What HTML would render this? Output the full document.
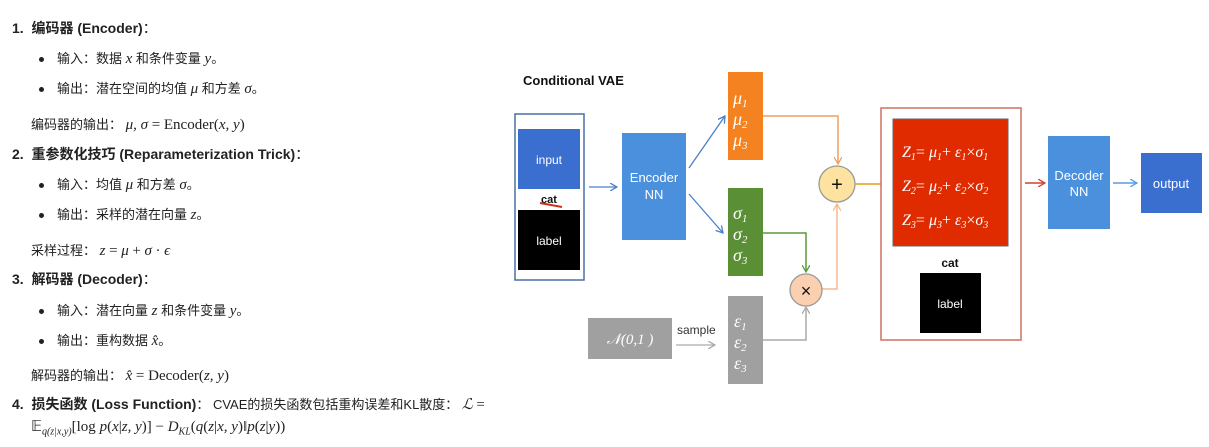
<!DOCTYPE html>
<html><head><meta charset="utf-8"><style>
body{margin:0;width:1209px;height:447px;background:#fff;position:relative;overflow:hidden;font-family:"Liberation Sans","Noto Sans CJK SC",sans-serif;color:#222}
.t{position:absolute;white-space:nowrap;font-size:13px;line-height:16px}
.h{font-weight:bold;font-size:14px}
.m{font-family:"Liberation Serif","Noto Serif CJK SC",serif;font-style:italic;font-size:15px}
.r{font-family:"Liberation Serif",serif;font-size:15px}
.dot{position:absolute;width:5px;height:5px;border-radius:50%;background:#222}
</style></head><body>
<div class="t h" style="left:12px;top:20px">1.&nbsp; 编码器 (Encoder)<span style="font-weight:normal">：</span></div>
<div class="dot" style="left:39px;top:57px"></div><div class="t" style="left:57px;top:51px">输入：数据 <span class="m">x</span> 和条件变量 <span class="m">y</span>。</div>
<div class="dot" style="left:39px;top:87px"></div><div class="t" style="left:57px;top:81px">输出：潜在空间的均值 <span class="m">μ</span> 和方差 <span class="m">σ</span>。</div>
<div class="t" style="left:31px;top:117px">编码器的输出： <span class="m">μ, σ</span> <span class="r">= Encoder(</span><span class="m">x, y</span><span class="r">)</span></div>
<div class="t h" style="left:12px;top:146px">2.&nbsp; 重参数化技巧 (Reparameterization Trick)<span style="font-weight:normal">：</span></div>
<div class="dot" style="left:39px;top:183px"></div><div class="t" style="left:57px;top:177px">输入：均值 <span class="m">μ</span> 和方差 <span class="m">σ</span>。</div>
<div class="dot" style="left:39px;top:213px"></div><div class="t" style="left:57px;top:207px">输出：采样的潜在向量 <span class="m">z</span>。</div>
<div class="t" style="left:31px;top:243px">采样过程： <span class="m">z</span> <span class="r">=</span> <span class="m">μ</span> <span class="r">+</span> <span class="m">σ</span> <span class="r">·</span> <span class="m">ϵ</span></div>
<div class="t h" style="left:12px;top:271px">3.&nbsp; 解码器 (Decoder)<span style="font-weight:normal">：</span></div>
<div class="dot" style="left:39px;top:309px"></div><div class="t" style="left:57px;top:303px">输入：潜在向量 <span class="m">z</span> 和条件变量 <span class="m">y</span>。</div>
<div class="dot" style="left:39px;top:339px"></div><div class="t" style="left:57px;top:333px">输出：重构数据 <span class="m">x̂</span>。</div>
<div class="t" style="left:31px;top:368px">解码器的输出： <span class="m">x̂</span> <span class="r">= Decoder(</span><span class="m">z, y</span><span class="r">)</span></div>
<div class="t" style="left:12px;top:396px"><b style="font-size:14px">4.&nbsp; 损失函数 (Loss Function)</b>： CVAE的损失函数包括重构误差和KL散度： <span class="m">ℒ</span> <span class="r">=</span></div>
<div class="t" style="left:31px;top:419px"><span class="r">𝔼</span><sub class="m" style="font-size:10px">q(z|x,y)</sub><span class="r">[log </span><span class="m">p</span><span class="r">(</span><span class="m">x</span><span class="r">|</span><span class="m">z, y</span><span class="r">)] − </span><span class="m">D</span><sub class="m" style="font-size:10px">KL</sub><span class="r">(</span><span class="m">q</span><span class="r">(</span><span class="m">z</span><span class="r">|</span><span class="m">x, y</span><span class="r">)‖</span><span class="m">p</span><span class="r">(</span><span class="m">z</span><span class="r">|</span><span class="m">y</span><span class="r">))</span></div>

<svg width="1209" height="447" style="position:absolute;left:0;top:0" font-family="Liberation Sans, sans-serif">
<defs>
<marker id="a" markerWidth="8" markerHeight="8" refX="7" refY="4" orient="auto" markerUnits="userSpaceOnUse"><path d="M0,0 L7,4 L0,8" fill="none" stroke="context-stroke" stroke-width="1.3"/></marker>
</defs>
<text x="523" y="85" font-size="13" font-weight="bold" fill="#111">Conditional VAE</text>
<rect x="515" y="114" width="69" height="166" fill="#fff" stroke="#4a6fa5" stroke-width="1.5"/>
<rect x="518" y="129" width="62" height="60" fill="#3a6fd0"/>
<text x="549" y="164" font-size="12" fill="#fff" text-anchor="middle">input</text>
<text x="549" y="203" font-size="11" font-weight="bold" fill="#111" text-anchor="middle">cat</text>
<path d="M540,203 L562,207" stroke="#d03020" stroke-width="2"/>
<rect x="518" y="210" width="62" height="60" fill="#000"/>
<text x="549" y="245" font-size="12" fill="#fff" text-anchor="middle">label</text>
<line x1="589" y1="187" x2="617" y2="187" stroke="#4a80c8" stroke-width="1.3" marker-end="url(#a)"/>
<rect x="622" y="133" width="64" height="107" fill="#4a90dc"/>
<text x="654" y="182" font-size="13" fill="#fff" text-anchor="middle">Encoder</text>
<text x="654" y="199" font-size="13" fill="#fff" text-anchor="middle">NN</text>
<line x1="689" y1="168" x2="725" y2="116" stroke="#4a80c8" stroke-width="1.3" marker-end="url(#a)"/>
<line x1="689" y1="194" x2="723" y2="233" stroke="#4a80c8" stroke-width="1.3" marker-end="url(#a)"/>
<rect x="728" y="72" width="35" height="88" fill="#f58220"/>
<g fill="#fff" font-family="Liberation Serif, serif" font-style="italic" font-size="18">
<text x="733" y="104">μ<tspan font-size="11" dy="3">1</tspan></text>
<text x="733" y="125">μ<tspan font-size="11" dy="3">2</tspan></text>
<text x="733" y="146">μ<tspan font-size="11" dy="3">3</tspan></text>
</g>
<rect x="728" y="188" width="35" height="88" fill="#5a8f35"/>
<g fill="#fff" font-family="Liberation Serif, serif" font-style="italic" font-size="18">
<text x="733" y="219">σ<tspan font-size="11" dy="3">1</tspan></text>
<text x="733" y="240">σ<tspan font-size="11" dy="3">2</tspan></text>
<text x="733" y="261">σ<tspan font-size="11" dy="3">3</tspan></text>
</g>
<rect x="728" y="296" width="35" height="88" fill="#a0a0a0"/>
<g fill="#fff" font-family="Liberation Serif, serif" font-style="italic" font-size="18">
<text x="734" y="327">ε<tspan font-size="11" dy="3">1</tspan></text>
<text x="734" y="348">ε<tspan font-size="11" dy="3">2</tspan></text>
<text x="734" y="369">ε<tspan font-size="11" dy="3">3</tspan></text>
</g>
<rect x="588" y="318" width="84" height="41" fill="#a0a0a0"/>
<text x="630" y="344" font-size="15" fill="#fff" text-anchor="middle" font-family="Liberation Serif, serif" font-style="italic">𝒩(0,1 )</text>
<text x="677" y="334" font-size="12" fill="#333">sample</text>
<line x1="676" y1="345" x2="715" y2="345" stroke="#aaa" stroke-width="1.3" marker-end="url(#a)"/>
<path d="M763,116 H838 V164" fill="none" stroke="#f0a060" stroke-width="1.5" marker-end="url(#a)"/>
<path d="M763,233 H806 V272" fill="none" stroke="#5a9a3a" stroke-width="1.5" marker-end="url(#a)"/>
<path d="M763,340 H806 V307" fill="none" stroke="#aaa" stroke-width="1.5" marker-end="url(#a)"/>
<path d="M822,289 H837 V204" fill="none" stroke="#f5b890" stroke-width="1.5" marker-end="url(#a)"/>
<circle cx="837" cy="184" r="18" fill="#fde2a0" stroke="#999" stroke-width="1.3"/>
<text x="837" y="191" font-size="20" text-anchor="middle" fill="#111">+</text>
<circle cx="806" cy="290" r="16" fill="#fbd0b0" stroke="#999" stroke-width="1.3"/>
<text x="806" y="297" font-size="18" text-anchor="middle" fill="#111">×</text>
<line x1="855" y1="184" x2="890" y2="184" stroke="#e0a020" stroke-width="1.5" marker-end="url(#a)"/>
<rect x="881" y="108" width="140" height="232" fill="#fff" stroke="#d07060" stroke-width="1.5"/>
<rect x="893" y="119" width="115" height="127" fill="#e02a00" stroke="#666" stroke-width="1"/>
<g fill="#fff" font-family="Liberation Serif, serif" font-size="16" font-style="italic">
<text x="902" y="157">Z<tspan font-size="10" dy="3">1</tspan><tspan dy="-3" font-style="normal">= </tspan>μ<tspan font-size="10" dy="3">1</tspan><tspan dy="-3" font-style="normal">+ </tspan>ε<tspan font-size="10" dy="3">1</tspan><tspan dy="-3" font-style="normal">×</tspan>σ<tspan font-size="10" dy="3">1</tspan></text>
<text x="902" y="191">Z<tspan font-size="10" dy="3">2</tspan><tspan dy="-3" font-style="normal">= </tspan>μ<tspan font-size="10" dy="3">2</tspan><tspan dy="-3" font-style="normal">+ </tspan>ε<tspan font-size="10" dy="3">2</tspan><tspan dy="-3" font-style="normal">×</tspan>σ<tspan font-size="10" dy="3">2</tspan></text>
<text x="902" y="225">Z<tspan font-size="10" dy="3">3</tspan><tspan dy="-3" font-style="normal">= </tspan>μ<tspan font-size="10" dy="3">3</tspan><tspan dy="-3" font-style="normal">+ </tspan>ε<tspan font-size="10" dy="3">3</tspan><tspan dy="-3" font-style="normal">×</tspan>σ<tspan font-size="10" dy="3">3</tspan></text>
</g>
<text x="950" y="267" font-size="12" font-weight="bold" text-anchor="middle" fill="#111">cat</text>
<rect x="920" y="273" width="61" height="60" fill="#000"/>
<text x="950" y="308" font-size="12" fill="#fff" text-anchor="middle">label</text>
<line x1="1025" y1="183" x2="1045" y2="183" stroke="#d04030" stroke-width="1.5" marker-end="url(#a)"/>
<rect x="1048" y="136" width="62" height="93" fill="#4a90dc"/>
<text x="1079" y="180" font-size="13" fill="#fff" text-anchor="middle">Decoder</text>
<text x="1079" y="196" font-size="13" fill="#fff" text-anchor="middle">NN</text>
<line x1="1113" y1="183" x2="1137" y2="183" stroke="#5a9ae0" stroke-width="1.5" marker-end="url(#a)"/>
<rect x="1141" y="153" width="61" height="60" fill="#3a6fd0"/>
<text x="1171" y="188" font-size="13" fill="#fff" text-anchor="middle">output</text>
</svg>
</body></html>
